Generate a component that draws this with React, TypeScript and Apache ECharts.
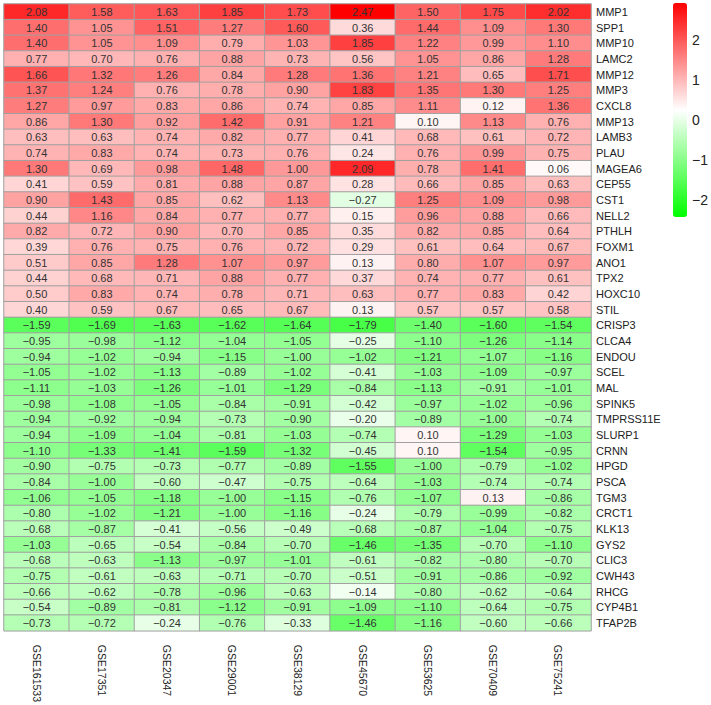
import React, { useEffect, useRef } from "react";
import * as echarts from "echarts";

const datasets = ["GSE161533", "GSE17351", "GSE20347", "GSE29001", "GSE38129", "GSE45670", "GSE53625", "GSE70409", "GSE75241"];

const upGenes = ["MMP1", "SPP1", "MMP10", "LAMC2", "MMP12", "MMP3", "CXCL8", "MMP13", "LAMB3", "PLAU", "MAGEA6", "CEP55", "CST1", "NELL2", "PTHLH", "FOXM1", "ANO1", "TPX2", "HOXC10", "STIL"];
const upValues = [
  [2.08, 1.58, 1.63, 1.85, 1.73, 2.47, 1.50, 1.75, 2.02],
  [1.40, 1.05, 1.51, 1.27, 1.60, 0.36, 1.44, 1.09, 1.30],
  [1.40, 1.05, 1.09, 0.79, 1.03, 1.85, 1.22, 0.99, 1.10],
  [0.77, 0.70, 0.76, 0.88, 0.73, 0.56, 1.05, 0.86, 1.28],
  [1.66, 1.32, 1.26, 0.84, 1.28, 1.36, 1.21, 0.65, 1.71],
  [1.37, 1.24, 0.76, 0.78, 0.90, 1.83, 1.35, 1.30, 1.25],
  [1.27, 0.97, 0.83, 0.86, 0.74, 0.85, 1.11, 0.12, 1.36],
  [0.86, 1.30, 0.92, 1.42, 0.91, 1.21, 0.10, 1.13, 0.76],
  [0.63, 0.63, 0.74, 0.82, 0.77, 0.41, 0.68, 0.61, 0.72],
  [0.74, 0.83, 0.74, 0.73, 0.76, 0.24, 0.76, 0.99, 0.75],
  [1.30, 0.69, 0.98, 1.48, 1.00, 2.09, 0.78, 1.41, 0.06],
  [0.41, 0.59, 0.81, 0.88, 0.87, 0.28, 0.66, 0.85, 0.63],
  [0.90, 1.43, 0.85, 0.62, 1.13, -0.27, 1.25, 1.09, 0.98],
  [0.44, 1.16, 0.84, 0.77, 0.77, 0.15, 0.96, 0.88, 0.66],
  [0.82, 0.72, 0.90, 0.70, 0.85, 0.35, 0.82, 0.85, 0.64],
  [0.39, 0.76, 0.75, 0.76, 0.72, 0.29, 0.61, 0.64, 0.67],
  [0.51, 0.85, 1.28, 1.07, 0.97, 0.13, 0.80, 1.07, 0.97],
  [0.44, 0.68, 0.71, 0.88, 0.77, 0.37, 0.74, 0.77, 0.61],
  [0.50, 0.83, 0.74, 0.78, 0.71, 0.63, 0.77, 0.83, 0.42],
  [0.40, 0.59, 0.67, 0.65, 0.67, 0.13, 0.57, 0.57, 0.58],
];

const downGenes = ["CRISP3", "CLCA4", "ENDOU", "SCEL", "MAL", "SPINK5", "TMPRSS11E", "SLURP1", "CRNN", "HPGD", "PSCA", "TGM3", "CRCT1", "KLK13", "GYS2", "CLIC3", "CWH43", "RHCG", "CYP4B1", "TFAP2B"];
const downValues = [
  [-1.59, -1.69, -1.63, -1.62, -1.64, -1.79, -1.40, -1.60, -1.54],
  [-0.95, -0.98, -1.12, -1.04, -1.05, -0.25, -1.10, -1.26, -1.14],
  [-0.94, -1.02, -0.94, -1.15, -1.00, -1.02, -1.21, -1.07, -1.16],
  [-1.05, -1.02, -1.13, -0.89, -1.02, -0.41, -1.03, -1.09, -0.97],
  [-1.11, -1.03, -1.26, -1.01, -1.29, -0.84, -1.13, -0.91, -1.01],
  [-0.98, -1.08, -1.05, -0.84, -0.91, -0.42, -0.97, -1.02, -0.96],
  [-0.94, -0.92, -0.94, -0.73, -0.90, -0.20, -0.89, -1.00, -0.74],
  [-0.94, -1.09, -1.04, -0.81, -1.03, -0.74, 0.10, -1.29, -1.03],
  [-1.10, -1.33, -1.41, -1.59, -1.32, -0.45, 0.10, -1.54, -0.95],
  [-0.90, -0.75, -0.73, -0.77, -0.89, -1.55, -1.00, -0.79, -1.02],
  [-0.84, -1.00, -0.60, -0.47, -0.75, -0.64, -1.03, -0.74, -0.74],
  [-1.06, -1.05, -1.18, -1.00, -1.15, -0.76, -1.07, 0.13, -0.86],
  [-0.80, -1.02, -1.21, -1.00, -1.16, -0.24, -0.79, -0.99, -0.82],
  [-0.68, -0.87, -0.41, -0.56, -0.49, -0.68, -0.87, -1.04, -0.75],
  [-1.03, -0.65, -0.54, -0.84, -0.70, -1.46, -1.35, -0.70, -1.10],
  [-0.68, -0.63, -1.13, -0.97, -1.01, -0.61, -0.82, -0.80, -0.70],
  [-0.75, -0.61, -0.63, -0.71, -0.70, -0.51, -0.91, -0.86, -0.92],
  [-0.66, -0.62, -0.78, -0.96, -0.63, -0.14, -0.80, -0.62, -0.64],
  [-0.54, -0.89, -0.81, -1.12, -0.91, -1.09, -1.10, -0.64, -0.75],
  [-0.73, -0.72, -0.24, -0.76, -0.33, -1.46, -1.16, -0.60, -0.66],
];

const colorbarTicks = [-2, -1, 0, 1, 2];
const scaleLimit = 2.47;

const FONT = '"Liberation Sans", Arial, sans-serif';

function fmt(v: number, digits: number): string {
  const s = Math.abs(v).toFixed(digits);
  return v < 0 ? "\u2212" + s : s;
}

export default function App() {
  const ref = useRef<HTMLDivElement>(null);

  useEffect(() => {
    if (!ref.current) return;
    const chart = echarts.init(ref.current, undefined, { renderer: "svg" });
    const genes = [...upGenes, ...downGenes];
    const rows = [...upValues, ...downValues];
    const data: [number, number, number][] = [];
    rows.forEach((row, i) => row.forEach((v, j) => data.push([j, i, v])));

    const barTop = 3;
    const barH = 214;
    const unit = barH / (2 * scaleLimit);
    const axisH = 6 * unit;
    const axisTop = barTop + barH / 2 - axisH / 2;

    chart.setOption({
      animation: false,
      textStyle: { fontFamily: FONT },
      grid: [
        { left: 4, top: 4, width: 587, height: 634 },
        { left: 673, top: axisTop, width: 14, height: axisH },
      ],
      xAxis: [
        {
          type: "category",
          data: datasets,
          gridIndex: 0,
          position: "bottom",
          axisLine: { show: false },
          axisTick: { show: false },
          splitLine: { show: false },
          axisLabel: { rotate: -90, fontSize: 10.5, color: "#222", margin: 14, fontFamily: FONT },
        },
        { type: "value", gridIndex: 1, show: false, min: 0, max: 1 },
      ],
      yAxis: [
        {
          type: "category",
          data: genes,
          inverse: true,
          gridIndex: 0,
          position: "right",
          axisLine: { show: false },
          axisTick: { show: false },
          splitLine: { show: false },
          axisLabel: { fontSize: 11, color: "#222", margin: 5, fontFamily: FONT },
        },
        {
          type: "value",
          gridIndex: 1,
          position: "right",
          min: -3,
          max: 3,
          interval: 1,
          axisLine: { show: false },
          axisTick: { show: false },
          splitLine: { show: false },
          axisLabel: {
            fontSize: 14,
            color: "#222",
            margin: 6,
            fontFamily: FONT,
            formatter: (v: number) => (colorbarTicks.includes(v) ? fmt(v, 0) : ""),
          },
        },
      ],
      visualMap: {
        type: "continuous",
        seriesIndex: 0,
        min: -scaleLimit,
        max: scaleLimit,
        orient: "vertical",
        left: 673,
        top: barTop,
        itemWidth: 14,
        itemHeight: barH,
        padding: 0,
        text: null,
        showLabel: false,
        calculable: false,
        hoverLink: false,
        inRange: { color: ["#00ff00", "#ffffff", "#ff0000"] },
      },
      series: [
        {
          type: "heatmap",
          xAxisIndex: 0,
          yAxisIndex: 0,
          data,
          itemStyle: { borderColor: "#a0a0a0", borderWidth: 1 },
          label: {
            show: true,
            fontSize: 11,
            color: "#333",
            fontFamily: FONT,
            formatter: (p: any) => fmt(p.value[2], 2),
          },
          emphasis: { disabled: true },
        },
      ],
    });
    return () => chart.dispose();
  }, []);

  return (
    <div
      ref={ref}
      style={{ position: "fixed", left: 0, top: 0, width: 711, height: 705, background: "#fff" }}
    />
  );
}
